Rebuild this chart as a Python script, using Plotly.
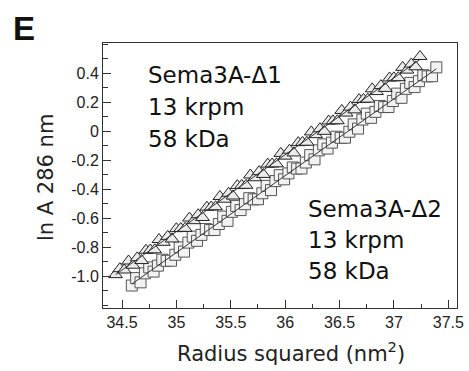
import plotly.graph_objects as go

# Sema3A-Δ1 (triangles)
tri_x = [34.44, 34.48, 34.52, 34.56, 34.60, 34.64, 34.68, 34.72, 34.76, 34.80,
         34.84, 34.88, 34.92, 34.96, 35.00, 35.04, 35.08, 35.12, 35.16, 35.20,
         35.24, 35.28, 35.32, 35.36, 35.40, 35.44, 35.48, 35.52, 35.56, 35.60,
         35.64, 35.68, 35.72, 35.76, 35.80, 35.84, 35.88, 35.92, 35.96, 36.00,
         36.04, 36.08, 36.12, 36.16, 36.20, 36.24, 36.28, 36.32, 36.36, 36.40,
         36.44, 36.48, 36.52, 36.56, 36.60, 36.64, 36.68, 36.72, 36.76, 36.80,
         36.84, 36.88, 36.92, 36.96, 37.00, 37.04, 37.08, 37.12, 37.16, 37.20, 37.24]
tri_y = [-0.990, -0.949, -0.958, -0.896, -0.925, -0.874, -0.893, -0.822, -0.820, -0.819,
         -0.748, -0.767, -0.726, -0.744, -0.673, -0.672, -0.671, -0.600, -0.618, -0.577,
         -0.596, -0.525, -0.524, -0.522, -0.451, -0.470, -0.429, -0.448, -0.376, -0.375,
         -0.374, -0.303, -0.322, -0.280, -0.299, -0.228, -0.227, -0.226, -0.154, -0.173,
         -0.132, -0.151, -0.080, -0.078, -0.077, -0.006, -0.025, 0.016, -0.002, 0.069,
         0.070, 0.071, 0.142, 0.124, 0.165, 0.146, 0.217, 0.218, 0.220, 0.291,
         0.272, 0.313, 0.294, 0.366, 0.367, 0.368, 0.439, 0.420, 0.462, 0.443, 0.514]

# Sema3A-Δ2 (squares)
sq_x = [34.59, 34.63, 34.67, 34.71, 34.75, 34.79, 34.83, 34.87, 34.91, 34.95,
        34.99, 35.03, 35.07, 35.11, 35.15, 35.19, 35.23, 35.27, 35.31, 35.35,
        35.39, 35.43, 35.47, 35.51, 35.55, 35.59, 35.63, 35.67, 35.71, 35.75,
        35.79, 35.83, 35.87, 35.91, 35.95, 35.99, 36.03, 36.07, 36.11, 36.15,
        36.19, 36.23, 36.27, 36.31, 36.35, 36.39, 36.43, 36.47, 36.51, 36.55,
        36.59, 36.63, 36.67, 36.71, 36.75, 36.79, 36.83, 36.87, 36.91, 36.95,
        36.99, 37.03, 37.07, 37.11, 37.15, 37.19, 37.23, 37.27, 37.31, 37.35, 37.39]
sq_y = [-1.065, -1.014, -1.043, -0.981, -0.940, -0.969, -0.928, -0.887, -0.895, -0.894,
        -0.853, -0.802, -0.831, -0.769, -0.728, -0.757, -0.716, -0.675, -0.683, -0.682,
        -0.641, -0.590, -0.619, -0.557, -0.516, -0.545, -0.504, -0.463, -0.471, -0.470,
        -0.429, -0.378, -0.407, -0.345, -0.304, -0.333, -0.292, -0.251, -0.259, -0.258,
        -0.217, -0.166, -0.195, -0.133, -0.092, -0.121, -0.080, -0.039, -0.047, -0.046,
        -0.005, 0.046, 0.017, 0.079, 0.120, 0.091, 0.132, 0.173, 0.165, 0.166,
        0.207, 0.258, 0.229, 0.291, 0.332, 0.303, 0.344, 0.385, 0.377, 0.378, 0.439]

# fitted lines (endpoints)
tri_fit_x = [34.44, 37.24]
tri_fit_y = [-0.990, 0.494]
sq_fit_x = [34.59, 37.39]
sq_fit_y = [-1.055, 0.429]

y_tickvals = [0.4, 0.2, 0, -0.2, -0.4, -0.6, -0.8, -1.0]
y_ticktext = ["0.4", "0.2", "0", "-0.2", "-0.4", "-0.6", "-0.8", "-1.0"]
x_tickvals = [34.5, 35, 35.5, 36, 36.5, 37, 37.5]
x_ticktext = ["34.5", "35", "35.5", "36", "36.5", "37", "37.5"]

TICKFONT = "Liberation Sans, Arial, Helvetica, sans-serif"
TEXTFONT = "DejaVu Sans, Verdana, sans-serif"

fig = go.Figure()
fig.add_trace(go.Scatter(
    x=sq_x, y=sq_y, mode="markers",
    marker=dict(symbol="square", size=11, color="#f2f2f2",
                line=dict(color="#555555", width=1)),
    showlegend=False))
fig.add_trace(go.Scatter(
    x=tri_x, y=tri_y, mode="markers",
    marker=dict(symbol="triangle-up", size=12, color="#ebebeb",
                line=dict(color="#222222", width=1)),
    showlegend=False))
fig.add_trace(go.Scatter(x=sq_fit_x, y=sq_fit_y, mode="lines",
                         line=dict(color="#333333", width=1), showlegend=False))
fig.add_trace(go.Scatter(x=tri_fit_x, y=tri_fit_y, mode="lines",
                         line=dict(color="#333333", width=1), showlegend=False))

fig.update_layout(
    width=469, height=371,
    margin=dict(l=103, r=12, t=43, b=63, autoexpand=False),
    paper_bgcolor="white", plot_bgcolor="white",
    font=dict(family=TICKFONT, color="#222222"),
    xaxis=dict(range=[34.325, 37.58], tickvals=x_tickvals, ticktext=x_ticktext,
               ticks="inside", ticklen=8, tickwidth=1, tickcolor="#333",
               minor=dict(dtick=0.25, ticks="inside", ticklen=4, tickcolor="#333"),
               showgrid=False, zeroline=False, showline=True, linecolor="#333",
               linewidth=1, mirror=True, tickfont=dict(size=16), automargin=False),
    yaxis=dict(range=[-1.22, 0.607], tickvals=y_tickvals, ticktext=y_ticktext,
               ticks="inside", ticklen=8, tickwidth=1, tickcolor="#333",
               minor=dict(dtick=0.1, tick0=0.1, ticks="inside", ticklen=5, tickcolor="#333"),
               showgrid=False, zeroline=False, showline=True, linecolor="#333",
               linewidth=1, mirror=True, tickfont=dict(size=16), automargin=False),
)

# plot area: x 103..457, y 43..308
def px2paper(px, py):
    return (px - 103) / 354.0, (308 - py) / 265.0

# axis titles
xp, yp = px2paper(291, 352)
fig.add_annotation(text="Radius squared (nm<sup>2</sup>)", xref="paper", yref="paper",
                   x=xp, y=yp, xanchor="center", yanchor="middle", showarrow=False,
                   font=dict(size=21, family=TEXTFONT, color="#222"))
xp, yp = px2paper(46, 178)
fig.add_annotation(text="ln A 286 nm", xref="paper", yref="paper", textangle=-90,
                   x=xp, y=yp, xanchor="center", yanchor="middle", showarrow=False,
                   font=dict(size=21, family=TEXTFONT, color="#222"))

# panel letter
xp, yp = px2paper(11, 8)
fig.add_annotation(text="<b>E</b>", xref="paper", yref="paper", x=xp, y=yp,
                   xanchor="left", yanchor="top", showarrow=False,
                   font=dict(size=33, family=TICKFONT, color="#111"))

left_lines = ["Sema3A-Δ1", "13 krpm", "58 kDa"]
right_lines = ["Sema3A-Δ2", "13 krpm", "58 kDa"]

for i, t in enumerate(left_lines):
    xp, yp = px2paper(146, 75 + 32 * i)
    fig.add_annotation(text=t, xref="paper", yref="paper", x=xp, y=yp,
                       xanchor="left", yanchor="middle", showarrow=False,
                       font=dict(size=23, family=TEXTFONT, color="#111"))
for i, t in enumerate(right_lines):
    xp, yp = px2paper(306, 209 + 31 * i)
    fig.add_annotation(text=t, xref="paper", yref="paper", x=xp, y=yp,
                       xanchor="left", yanchor="middle", showarrow=False,
                       font=dict(size=23, family=TEXTFONT, color="#111"))

fig.write_html("out.html", config={"displayModeBar": False},
               post_script="document.body.style.margin='0';document.body.style.padding='0';")
